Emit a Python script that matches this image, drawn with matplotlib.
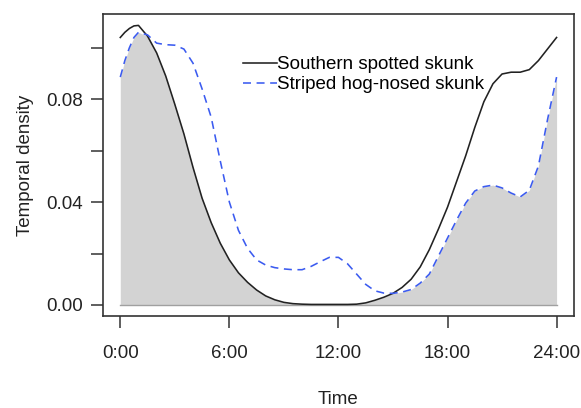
import matplotlib
matplotlib.use("Agg")
import matplotlib.pyplot as plt
import numpy as np

plt.rcParams['font.family'] = ['Liberation Sans', 'DejaVu Sans']

# hours of the day and the two activity density curves
hours = [0, 0.25, 0.5, 0.75, 1.0, 1.5, 2.0, 2.5, 3.0, 3.5, 4.0, 4.5, 5.0, 5.5, 6.0,
         6.5, 7.0, 7.5, 8.0, 8.5, 9.0, 9.5, 10.0, 10.5, 11.0, 11.5, 12.0, 12.5,
         13.0, 13.5, 14.0, 14.5, 15.0, 15.5, 16.0, 16.5, 17.0, 17.5, 18.0, 18.5,
         19.0, 19.5, 20.0, 20.5, 21.0, 21.5, 22.0, 22.5, 23.0, 23.5, 24.0]

spotted = [0.1040, 0.1060, 0.1075, 0.1085, 0.1087, 0.1045, 0.0980, 0.0890, 0.0780,
           0.0665, 0.0535, 0.0415, 0.0320, 0.0240, 0.0175, 0.0125, 0.0088, 0.0058,
           0.0035, 0.0020, 0.0010, 0.0005, 0.0003, 0.0002, 0.0002, 0.0002, 0.0002,
           0.0002, 0.0003, 0.0008, 0.0018, 0.0030, 0.0045, 0.0068, 0.0100, 0.0148,
           0.0215, 0.0295, 0.0380, 0.0480, 0.0580, 0.0690, 0.0790, 0.0860, 0.0898,
           0.0905, 0.0905, 0.0915, 0.0950, 0.0995, 0.1040]

hognosed = [0.0886, 0.0950, 0.1000, 0.1040, 0.1060, 0.1050, 0.1018, 0.1012, 0.1010,
            0.0995, 0.0940, 0.0840, 0.0730, 0.0560, 0.0400, 0.0290, 0.0220, 0.0175,
            0.0155, 0.0145, 0.0140, 0.0137, 0.0137, 0.0150, 0.0168, 0.0185, 0.0185,
            0.0160, 0.0120, 0.0080, 0.0055, 0.0046, 0.0045, 0.0050, 0.0060, 0.0085,
            0.0120, 0.0190, 0.0260, 0.0330, 0.0396, 0.0443, 0.0460, 0.0466, 0.0455,
            0.0435, 0.0420, 0.0446, 0.0540, 0.0720, 0.0886]

xticks = [0, 6, 12, 18, 24]
xlabels = ['0:00', '6:00', '12:00', '18:00', '24:00']
yticks = [0.00, 0.02, 0.04, 0.06, 0.08, 0.10]
ylabels = ['0.00', '', '0.04', '', '0.08', '']

hours = np.array(hours)
spotted = np.array(spotted)
hognosed = np.array(hognosed)
overlap = np.minimum(spotted, hognosed)

fig = plt.figure(figsize=(5.81, 4.08), dpi=100)
ax = fig.add_axes([0.177, 0.2255, 0.811, 0.740])

ax.fill_between(hours, 0, overlap, color='#d3d3d3', linewidth=0)
ax.plot(hours, np.zeros_like(hours), color='#a0a0a0', lw=1.0)
ax.plot(hours, spotted, color='#222222', lw=1.15, label='Southern spotted skunk')
ax.plot(hours, hognosed, color='#3b5bf0', lw=1.15, ls=(0, (5, 3.5)),
        label='Striped hog-nosed skunk')

ax.set_xlim(-0.96, 24.96)
ax.set_ylim(-0.0043, 0.1131)
ax.set_xticks(xticks)
ax.set_xticklabels(xlabels)
ax.set_yticks(yticks)
ax.set_yticklabels(ylabels)

for s in ax.spines.values():
    s.set_color('#333333')
    s.set_linewidth(1.2)
ax.tick_params(axis='both', direction='out', length=8.6, width=1.1,
               color='#333333', labelsize=13.5, labelcolor='#222222')
ax.tick_params(axis='x', pad=12)
ax.tick_params(axis='y', pad=6)

ax.text(-0.165, 0.5, 'Temporal density', transform=ax.transAxes, rotation=90,
        ha='center', va='center', fontsize=13.5, color='#222222')
ax.text(0.5, -0.275, 'Time', transform=ax.transAxes,
        ha='center', va='center', fontsize=13.5, color='#222222')

ax.legend(loc='upper left', bbox_to_anchor=(0.297, 0.86), frameon=False,
          fontsize=13.5, handlelength=1.8, handletextpad=0.05,
          borderpad=0, borderaxespad=0, labelspacing=0.15)

fig.savefig('out.png', dpi=100)
